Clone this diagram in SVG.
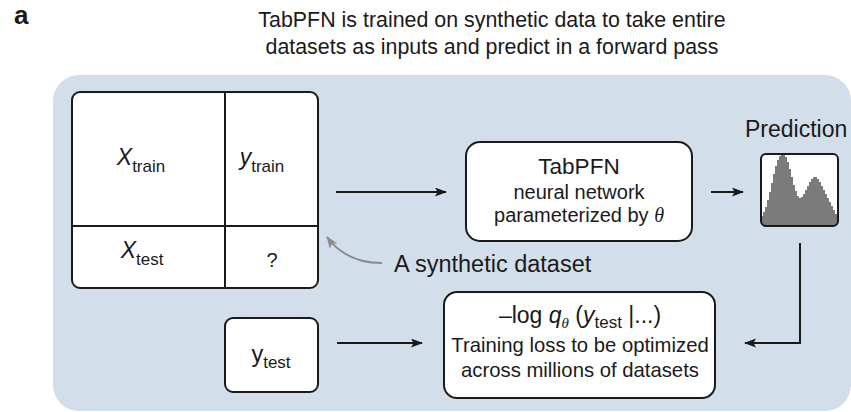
<svg xmlns="http://www.w3.org/2000/svg" width="851" height="412" viewBox="0 0 851 412">
  <style>
    text { font-family: "Liberation Sans", Arial, sans-serif; fill: #1a1a1a; }
    .box { fill: #ffffff; stroke: #1a1a1a; stroke-width: 2; }
    .line { fill: none; stroke: #1a1a1a; stroke-width: 2; }
    .it { font-style: italic; }
  </style>
  <defs>
    <marker id="arrow" markerWidth="13" markerHeight="10" refX="11" refY="4.5" orient="auto" markerUnits="userSpaceOnUse">
      <path d="M0,0 L12,4.5 L0,9 L2.5,4.5 z" fill="#1a1a1a"/>
    </marker>
    <marker id="arrowGray" markerWidth="13" markerHeight="10" refX="11" refY="4.5" orient="auto" markerUnits="userSpaceOnUse">
      <path d="M0,0 L12,4.5 L0,9 L2.5,4.5 z" fill="#8c8c8c"/>
    </marker>
    <clipPath id="histClip">
      <rect x="761" y="154" width="77" height="72" rx="5"/>
    </clipPath>
  </defs>

  <!-- panel label and heading -->
  <text x="14" y="24" font-size="26" font-weight="bold">a</text>
  <text x="492" y="27" font-size="21.4" text-anchor="middle">TabPFN is trained on synthetic data to take entire</text>
  <text x="492" y="54" font-size="21.4" text-anchor="middle">datasets as inputs and predict in a forward pass</text>

  <!-- background panel -->
  <rect x="53" y="75" width="798" height="336" rx="26" fill="#d3deeb"/>

  <!-- synthetic dataset table -->
  <g id="dataset">
    <rect class="box" x="72" y="92" width="246" height="196" rx="8"/>
    <line class="line" x1="225" y1="92" x2="225" y2="288"/>
    <line class="line" x1="72" y1="226" x2="318" y2="226"/>
    <text x="141" y="165" font-size="23" text-anchor="middle"><tspan class="it">X</tspan><tspan font-size="17" dy="7">train</tspan></text>
    <text x="262" y="165" font-size="23" text-anchor="middle"><tspan class="it">y</tspan><tspan font-size="17" dy="7">train</tspan></text>
    <text x="142" y="258" font-size="23" text-anchor="middle"><tspan class="it">X</tspan><tspan font-size="17" dy="7">test</tspan></text>
    <text x="272" y="267" font-size="20" text-anchor="middle">?</text>
  </g>

  <!-- model -->
  <g id="tabpfn">
    <rect class="box" x="466" y="142" width="226" height="99" rx="14"/>
    <text x="579" y="174" font-size="22.6" text-anchor="middle">TabPFN</text>
    <text x="579" y="199" font-size="20" text-anchor="middle">neural network</text>
    <text x="579" y="222" font-size="20" text-anchor="middle">parameterized by <tspan font-family="'Liberation Serif', serif" class="it">θ</tspan></text>
  </g>

  <!-- predicted distribution -->
  <g id="prediction">
    <text x="745" y="137" font-size="23">Prediction</text>
    <rect x="761" y="154" width="77" height="72" rx="5" fill="#ffffff"/>
    <path clip-path="url(#histClip)" fill="#7b7b7b"
      d="M761,226 V216 H763 V212 H765 V207 H767 V200 H769 V192 H771 V183 H773 V174 H775 V166 H777 V160 H779 V156 H781 V154 H785 V157 H787 V162 H789 V169 H791 V177 H793 V185 H795 V191 H797 V196 H799 V198 H801 V197 H803 V194 H805 V190 H807 V186 H809 V182 H811 V179 H813 V177 H817 V179 H819 V182 H821 V186 H823 V190 H825 V194 H827 V198 H829 V202 H831 V206 H833 V210 H835 V214 H838 V226 Z"/>
    <rect x="761" y="154" width="77" height="72" rx="5" fill="none" stroke="#1a1a1a" stroke-width="2"/>
  </g>

  <!-- held-out target -->
  <g id="ytest">
    <rect class="box" x="225" y="318" width="93" height="74" rx="8"/>
    <text x="271" y="362" font-size="23.5" text-anchor="middle">y<tspan font-size="17" dy="6">test</tspan></text>
  </g>

  <!-- training objective -->
  <g id="loss">
    <rect class="box" x="444" y="292" width="271" height="106" rx="13"/>
    <text x="580" y="323" font-size="23" text-anchor="middle">–log <tspan class="it">q</tspan><tspan class="it" font-family="'Liberation Serif', serif" font-size="15" dy="5">θ</tspan><tspan dy="-5"> (</tspan><tspan class="it">y</tspan><tspan font-size="17" dy="5">test</tspan><tspan dy="-5"> |...)</tspan></text>
    <text x="580" y="352" font-size="20.3" text-anchor="middle">Training loss to be optimized</text>
    <text x="580" y="377" font-size="20.3" text-anchor="middle">across millions of datasets</text>
  </g>

  <!-- caption for the table -->
  <text x="394" y="272" font-size="23.5">A synthetic dataset</text>

  <!-- connectors -->
  <g id="connectors">
    <line class="line" x1="336" y1="192" x2="446" y2="192" marker-end="url(#arrow)"/>
    <line class="line" x1="711" y1="192" x2="743" y2="192" marker-end="url(#arrow)"/>
    <path class="line" d="M800,243 V343 H745" marker-end="url(#arrow)"/>
    <line class="line" x1="337" y1="343" x2="422" y2="343" marker-end="url(#arrow)"/>
    <path d="M382,263 Q346,263 327,237" fill="none" stroke="#8c8c8c" stroke-width="2" marker-end="url(#arrowGray)"/>
  </g>
</svg>
